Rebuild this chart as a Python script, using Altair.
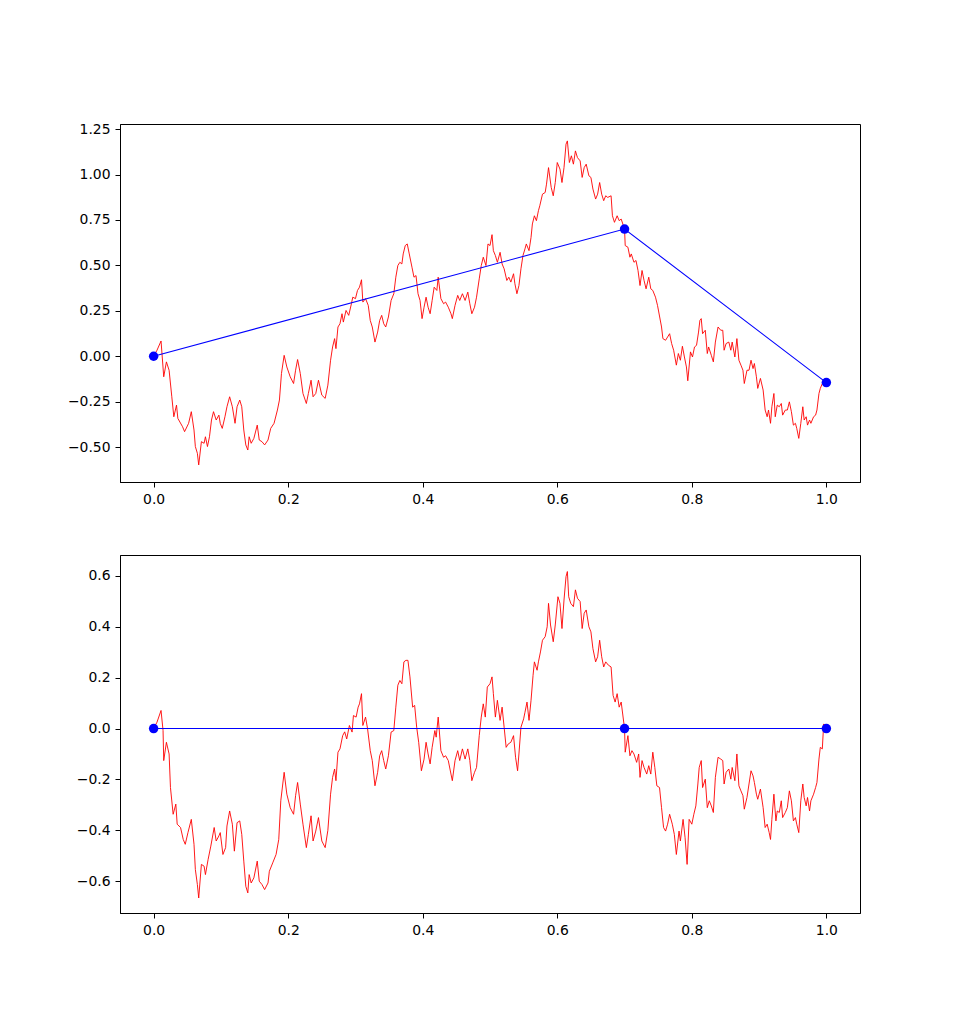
import altair as alt
import pandas as pd

# Top panel: the random walk (red)
top_x = [0.000, 0.005, 0.011, 0.015, 0.019, 0.023, 0.027, 0.030, 0.034, 0.036,
         0.043, 0.046, 0.052, 0.056, 0.060, 0.062, 0.065, 0.067, 0.071, 0.075,
         0.077, 0.080, 0.083, 0.086, 0.089, 0.093, 0.097, 0.099, 0.102, 0.106,
         0.109, 0.113, 0.117, 0.121, 0.124, 0.128, 0.131, 0.134, 0.137, 0.140,
         0.142, 0.145, 0.149, 0.154, 0.157, 0.161, 0.165, 0.170, 0.174, 0.179,
         0.184, 0.187, 0.190, 0.194, 0.198, 0.203, 0.208, 0.211, 0.214, 0.218,
         0.222, 0.227, 0.230, 0.234, 0.237, 0.241, 0.245,
         0.250, 0.255, 0.259, 0.263, 0.266, 0.269, 0.271, 0.274, 0.277, 0.280,
         0.282, 0.286, 0.290, 0.294, 0.296, 0.300, 0.303, 0.306, 0.309, 0.311,
         0.315, 0.319, 0.322, 0.325, 0.329, 0.333, 0.336, 0.339, 0.342, 0.345,
         0.349, 0.353, 0.357, 0.360, 0.363, 0.366, 0.369, 0.371, 0.374, 0.377,
         0.380, 0.384, 0.387, 0.390, 0.393, 0.396, 0.399, 0.402, 0.405, 0.408,
         0.411, 0.414, 0.417, 0.421, 0.423, 0.427, 0.431, 0.434, 0.438, 0.442,
         0.444, 0.448, 0.452, 0.455, 0.459, 0.463, 0.467, 0.470, 0.473, 0.477,
         0.480, 0.484, 0.487, 0.490, 0.494, 0.497, 0.500,
         0.503, 0.505, 0.508, 0.511, 0.515, 0.518, 0.521, 0.525, 0.528, 0.531,
         0.535, 0.537, 0.540, 0.543, 0.546, 0.549, 0.552, 0.554, 0.558, 0.561,
         0.563, 0.566, 0.569, 0.572, 0.574, 0.578, 0.582, 0.584, 0.587, 0.591,
         0.594, 0.597, 0.600, 0.604, 0.607, 0.610, 0.613, 0.615, 0.618, 0.621,
         0.624, 0.627, 0.630, 0.634, 0.637, 0.640, 0.643, 0.647, 0.650, 0.653,
         0.657, 0.660, 0.663, 0.666, 0.669, 0.672, 0.675, 0.680, 0.682, 0.685,
         0.689, 0.692, 0.695, 0.700, 0.701, 0.705, 0.708, 0.710, 0.714, 0.717,
         0.720, 0.723, 0.726, 0.729, 0.732, 0.736, 0.739, 0.742, 0.746, 0.749,
         0.755, 0.757, 0.761, 0.764, 0.767, 0.770, 0.773, 0.777, 0.780, 0.783,
         0.786, 0.789, 0.792, 0.794, 0.798, 0.801, 0.804, 0.807, 0.810, 0.812,
         0.814, 0.816, 0.820, 0.823, 0.825, 0.829, 0.832, 0.835, 0.839, 0.843,
         0.846, 0.848, 0.851, 0.855, 0.858, 0.860, 0.864, 0.867, 0.870, 0.873,
         0.876, 0.878, 0.882, 0.885, 0.888, 0.891, 0.893, 0.896, 0.898, 0.902,
         0.906, 0.909, 0.912, 0.914, 0.917, 0.919, 0.922, 0.924, 0.927, 0.930,
         0.933, 0.935, 0.939, 0.942, 0.945, 0.948, 0.951, 0.954, 0.956, 0.959,
         0.962, 0.965, 0.967, 0.970, 0.972, 0.975, 0.977, 0.981, 0.984, 0.986,
         0.989, 0.991, 0.994, 1.000]
top_y = [0.000, 0.033, 0.084, -0.113, -0.031, -0.077, -0.223, -0.333, -0.269, -0.342,
         -0.388, -0.415, -0.369, -0.305, -0.406, -0.497, -0.534, -0.598, -0.470, -0.479,
         -0.443, -0.497, -0.443, -0.351, -0.305, -0.351, -0.324, -0.369, -0.397, -0.333,
         -0.278, -0.223, -0.278, -0.369, -0.278, -0.241, -0.278, -0.406, -0.488, -0.516,
         -0.443, -0.479, -0.452, -0.379, -0.461, -0.470, -0.488, -0.461, -0.397, -0.369,
         -0.296, -0.241, -0.095, 0.005, -0.059, -0.113, -0.150, -0.077, -0.018, -0.095,
         -0.205, -0.260, -0.205, -0.132, -0.223, -0.205, -0.132,
         -0.214, -0.232, -0.159, -0.022, 0.051, 0.097, 0.042, 0.161, 0.179, 0.234,
         0.188, 0.252, 0.225, 0.289, 0.325, 0.317, 0.362, 0.380, 0.421, 0.298,
         0.317, 0.280, 0.197, 0.161, 0.078, 0.133, 0.197, 0.225, 0.179, 0.161,
         0.216, 0.307, 0.344, 0.435, 0.499, 0.517, 0.508, 0.563, 0.609, 0.618,
         0.563, 0.490, 0.435, 0.444, 0.344, 0.307, 0.207, 0.270, 0.325, 0.270,
         0.234, 0.307, 0.380, 0.362, 0.435, 0.317, 0.289, 0.298, 0.270, 0.234,
         0.207, 0.280, 0.335, 0.307, 0.344, 0.307, 0.353, 0.289, 0.234, 0.270,
         0.325, 0.426, 0.499, 0.545, 0.499, 0.618, 0.609,
         0.669, 0.581, 0.554, 0.517, 0.572, 0.508, 0.481, 0.417, 0.435, 0.408,
         0.454, 0.399, 0.344, 0.389, 0.481, 0.554, 0.591, 0.618, 0.581, 0.654,
         0.728, 0.773, 0.746, 0.801, 0.828, 0.892, 0.901, 0.947, 1.038, 0.929,
         0.883, 0.956, 1.066, 1.030, 0.956, 1.038, 1.167, 1.185, 1.066, 1.103,
         1.057, 1.130, 1.093, 1.075, 0.984, 1.038, 1.057, 0.993, 0.984, 0.920,
         0.865, 0.892, 0.956, 0.892, 0.856, 0.883, 0.874, 0.883, 0.773, 0.737,
         0.773, 0.746, 0.755, 0.700, 0.609, 0.600, 0.545, 0.563, 0.517, 0.527,
         0.472, 0.389, 0.472, 0.417, 0.371, 0.435, 0.371, 0.362, 0.325, 0.280,
         0.161, 0.097, 0.088, 0.106, 0.124, 0.070, 0.033, -0.049, 0.015, -0.022,
         0.055, -0.004, -0.059, -0.135, 0.024, -0.004, 0.051, 0.060, 0.133, 0.197,
         0.207, 0.124, 0.143, 0.015, 0.051, 0.005, -0.031, 0.078, 0.161, 0.143,
         0.143, 0.033, 0.070, 0.078, 0.033, 0.078, -0.004, 0.097, -0.022, -0.049,
         -0.077, -0.150, -0.077, -0.077, -0.022, -0.068, -0.040, -0.113, -0.177, -0.122,
         -0.186, -0.296, -0.333, -0.296, -0.369, -0.278, -0.205, -0.333, -0.269, -0.278,
         -0.260, -0.324, -0.296, -0.296, -0.251, -0.305, -0.379, -0.369, -0.397, -0.452,
         -0.369, -0.278, -0.351, -0.333, -0.379, -0.351, -0.369, -0.333, -0.324, -0.296,
         -0.205, -0.177, -0.150, -0.145]

# Bottom panel: the bridge (red)
bot_x = [0.000, 0.005, 0.011, 0.014, 0.015, 0.019, 0.023, 0.025, 0.029, 0.033,
         0.035, 0.040, 0.044, 0.047, 0.051, 0.056, 0.060, 0.062, 0.065, 0.067,
         0.071, 0.075, 0.077, 0.081, 0.085, 0.090, 0.093, 0.097, 0.099, 0.103,
         0.107, 0.109, 0.113, 0.117, 0.120, 0.124, 0.128, 0.131, 0.134, 0.137,
         0.140, 0.142, 0.145, 0.149, 0.154, 0.157, 0.161, 0.165, 0.170, 0.172,
         0.177, 0.182, 0.186, 0.189, 0.194, 0.198, 0.203, 0.208, 0.211, 0.214,
         0.218, 0.222, 0.227, 0.230, 0.234, 0.237, 0.241, 0.245,
         0.250, 0.255, 0.259, 0.263, 0.266, 0.269, 0.271, 0.274, 0.277, 0.281,
         0.284, 0.287, 0.291, 0.295, 0.297, 0.301, 0.304, 0.306, 0.309, 0.311,
         0.315, 0.318, 0.322, 0.325, 0.329, 0.333, 0.336, 0.339, 0.342, 0.345,
         0.349, 0.353, 0.357, 0.360, 0.363, 0.366, 0.369, 0.372, 0.375, 0.378,
         0.381, 0.385, 0.388, 0.391, 0.394, 0.398, 0.402, 0.405, 0.408, 0.411,
         0.414, 0.418, 0.420, 0.423, 0.427, 0.431, 0.434, 0.438, 0.442, 0.444,
         0.448, 0.452, 0.455, 0.459, 0.463, 0.467, 0.470, 0.473, 0.477, 0.480,
         0.484, 0.487, 0.490, 0.493, 0.496, 0.500,
         0.503, 0.505, 0.508, 0.511, 0.515, 0.518, 0.521, 0.524, 0.527, 0.531,
         0.535, 0.538, 0.541, 0.543, 0.546, 0.550, 0.552, 0.555, 0.558, 0.561,
         0.564, 0.566, 0.570, 0.572, 0.575, 0.578, 0.582, 0.585, 0.587, 0.590,
         0.594, 0.597, 0.601, 0.604, 0.607, 0.610, 0.613, 0.615, 0.617, 0.620,
         0.624, 0.627, 0.630, 0.634, 0.637, 0.640, 0.643, 0.647, 0.650, 0.653,
         0.657, 0.660, 0.663, 0.666, 0.669, 0.672, 0.676, 0.680, 0.683, 0.686,
         0.689, 0.692, 0.695, 0.700, 0.701, 0.705, 0.708, 0.711, 0.714, 0.718,
         0.721, 0.723, 0.726, 0.729, 0.733, 0.736, 0.739, 0.742, 0.745, 0.748,
         0.752,
         0.755, 0.758, 0.761, 0.764, 0.767, 0.771, 0.774, 0.777, 0.781, 0.783,
         0.787, 0.790, 0.793, 0.796, 0.800, 0.803, 0.806, 0.809, 0.811, 0.814,
         0.816, 0.820, 0.823, 0.826, 0.829, 0.832, 0.835, 0.839, 0.843, 0.846,
         0.848, 0.851, 0.855, 0.858, 0.860, 0.864, 0.867, 0.870, 0.873, 0.876,
         0.878, 0.882, 0.885, 0.888, 0.891, 0.893, 0.896, 0.898, 0.902, 0.906,
         0.909, 0.912, 0.915, 0.917, 0.919, 0.922, 0.925, 0.927, 0.930, 0.933,
         0.935, 0.939, 0.942, 0.945, 0.948, 0.951, 0.954, 0.956, 0.959, 0.962,
         0.965, 0.967, 0.970, 0.972, 0.975, 0.977, 0.981, 0.984, 0.986, 0.989,
         0.991, 0.994, 0.996, 1.000]
bot_y = [0.000, 0.025, 0.071, -0.008, -0.126, -0.054, -0.100, -0.232, -0.337, -0.297,
         -0.376, -0.389, -0.436, -0.455, -0.409, -0.357, -0.455, -0.554, -0.613, -0.666,
         -0.534, -0.541, -0.574, -0.514, -0.462, -0.389, -0.442, -0.422, -0.409, -0.495,
         -0.468, -0.383, -0.324, -0.376, -0.482, -0.370, -0.363, -0.416, -0.521, -0.620,
         -0.646, -0.574, -0.607, -0.587, -0.521, -0.600, -0.613, -0.633, -0.607, -0.561,
         -0.528, -0.495, -0.436, -0.284, -0.172, -0.258, -0.311, -0.337, -0.264, -0.212,
         -0.297, -0.376, -0.468, -0.416, -0.343, -0.442, -0.403, -0.350,
         -0.442, -0.468, -0.400, -0.258, -0.192, -0.159, -0.205, -0.093, -0.080, -0.028,
         -0.013, -0.041, 0.012, -0.014, 0.051, 0.045, 0.084, 0.097, 0.137, 0.012,
         0.045, -0.001, -0.087, -0.126, -0.225, -0.172, -0.107, -0.087, -0.126, -0.159,
         -0.107, -0.014, -0.008, 0.084, 0.170, 0.189, 0.176, 0.262, 0.268, 0.268,
         0.203, 0.084, 0.091, 0.005, -0.054, -0.166, -0.120, -0.054, -0.100, -0.139,
         -0.074, -0.008, -0.034, 0.045, -0.087, -0.113, -0.107, -0.126, -0.179, -0.205,
         -0.126, -0.087, -0.126, -0.080, -0.120, -0.080, -0.126, -0.205, -0.172, -0.153,
         -0.028, 0.045, 0.097, 0.045, 0.163, 0.176,
         0.203, 0.137, 0.045, 0.111, 0.032, 0.084, 0.005, -0.074, -0.061, -0.054,
         -0.028, -0.113, -0.166, -0.100, 0.005, 0.038, 0.064, 0.104, 0.032, 0.111,
         0.209, 0.262, 0.229, 0.262, 0.301, 0.347, 0.361, 0.400, 0.492, 0.407,
         0.341, 0.407, 0.518, 0.492, 0.393, 0.505, 0.597, 0.617, 0.518, 0.492,
         0.479, 0.545, 0.512, 0.499, 0.393, 0.453, 0.466, 0.400, 0.380, 0.314,
         0.262, 0.282, 0.347, 0.282, 0.242, 0.262, 0.249, 0.242, 0.130, 0.104,
         0.137, 0.084, 0.104, 0.000, -0.093, -0.028, -0.107, -0.087, -0.100, -0.133,
         -0.100, -0.192, -0.126, -0.153, -0.179, -0.146, -0.179, -0.093, -0.153, -0.225,
         -0.232,
         -0.311, -0.389, -0.403, -0.376, -0.337, -0.376, -0.416, -0.495, -0.403, -0.442,
         -0.357, -0.429, -0.534, -0.357, -0.376, -0.337, -0.304, -0.218, -0.153, -0.126,
         -0.232, -0.199, -0.311, -0.284, -0.304, -0.330, -0.192, -0.113, -0.120, -0.126,
         -0.218, -0.172, -0.159, -0.199, -0.153, -0.205, -0.100, -0.225, -0.245, -0.264,
         -0.317, -0.271, -0.218, -0.166, -0.186, -0.212, -0.258, -0.278, -0.238, -0.311,
         -0.389, -0.376, -0.409, -0.436, -0.357, -0.258, -0.363, -0.324, -0.330, -0.284,
         -0.350, -0.330, -0.311, -0.245, -0.284, -0.363, -0.350, -0.376, -0.409, -0.284,
         -0.218, -0.271, -0.304, -0.271, -0.324, -0.284, -0.258, -0.232, -0.212, -0.120,
         -0.074, -0.080, 0.018, 0.000]

# Interpolation knots (blue)
knot_x = [0.0, 0.7, 1.0]
knot_top = [0.0, 0.700, -0.145]
knot_bot = [0.0, 0.0, 0.0]

x_ticks = [0.0, 0.2, 0.4, 0.6, 0.8, 1.0]
top_ticks = [-0.50, -0.25, 0.00, 0.25, 0.50, 0.75, 1.00, 1.25]
bot_ticks = [-0.6, -0.4, -0.2, 0.0, 0.2, 0.4, 0.6]

FONT = "DejaVu Sans"
W, H = 740, 358


def panel(px, py, ky, ydomain, yticks, yfmt):
    walk = pd.DataFrame({"t": px, "v": py})
    knots = pd.DataFrame({"t": knot_x, "v": ky})
    x = alt.X("t:Q", title=None,
              scale=alt.Scale(domain=[-0.05, 1.05], nice=False, zero=False),
              axis=alt.Axis(values=x_ticks, format=".1f", grid=False,
                            minExtent=30, maxExtent=30))
    y = alt.Y("v:Q", title=None,
              scale=alt.Scale(domain=ydomain, nice=False, zero=False),
              axis=alt.Axis(values=yticks, format=yfmt, grid=False,
                            minExtent=55, maxExtent=55))
    red = alt.Chart(walk).mark_line(color="#ff0000", strokeWidth=0.9).encode(x=x, y=y)
    blue = alt.Chart(knots).mark_line(color="#0000ff", strokeWidth=1.1).encode(x=x, y=y)
    dots = alt.Chart(knots).mark_circle(color="#0000ff", size=90, opacity=1).encode(x=x, y=y)
    return alt.layer(red, blue, dots).properties(width=W, height=H)


top = panel(top_x, top_y, knot_top, [-0.692, 1.278], top_ticks, ".2f")
bottom = panel(bot_x, bot_y, knot_bot, [-0.725, 0.682], bot_ticks, ".1f")

chart = (
    alt.vconcat(top, bottom, spacing=41)
    .properties(padding={"left": 64, "top": 121, "right": 10, "bottom": 10},
                background="white")
    .configure_view(stroke="black", strokeWidth=1)
    .configure_axis(
        domainColor="black", domainWidth=1,
        tickColor="black", tickSize=5, tickWidth=1,
        labelFont=FONT, labelFontSize=13.9, labelColor="black",
        labelPadding=5,
    )
)

chart.save("out.html", embed_options={"renderer": "svg", "actions": False})
